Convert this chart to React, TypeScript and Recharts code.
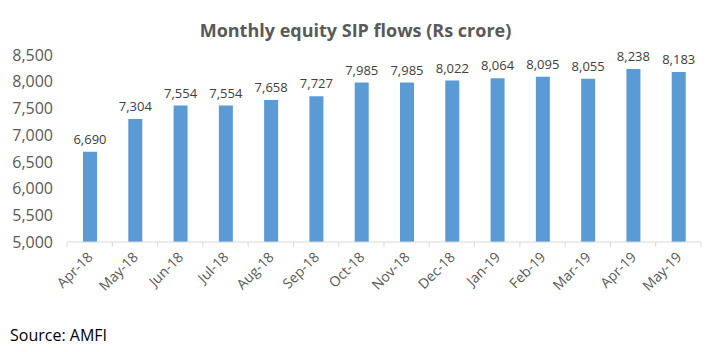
import React from 'react';
import { BarChart, Bar, XAxis, YAxis, LabelList } from 'recharts';

const months = ['Apr-18', 'May-18', 'Jun-18', 'Jul-18', 'Aug-18', 'Sep-18', 'Oct-18', 'Nov-18', 'Dec-18', 'Jan-19', 'Feb-19', 'Mar-19', 'Apr-19', 'May-19'];
const sipFlows = [6690, 7304, 7554, 7554, 7658, 7727, 7985, 7985, 8022, 8064, 8095, 8055, 8238, 8183];
const yTicks = [5000, 5500, 6000, 6500, 7000, 7500, 8000, 8500];

const data = months.map((m, i) => ({ month: m, value: sipFlows[i] }));

const FONT = '"Open Sans", sans-serif';
const fmt = (v: number) => v.toLocaleString('en-US');
const BAND = (711 - 67 - 10) / months.length;

const MonthTick = (props: any) => {
  const { x, y, payload, index } = props;
  const i = index ?? payload.index;
  const axisY = y - 8;
  return (
    <g>
      <line x1={x - BAND / 2} x2={x - BAND / 2} y1={axisY} y2={axisY + 5} stroke="#D9D9D9" />
      {i === months.length - 1 && (
        <line x1={x + BAND / 2} x2={x + BAND / 2} y1={axisY} y2={axisY + 5} stroke="#D9D9D9" />
      )}
      <g transform={`translate(${x + 4},${y + 8})`}>
        <text textAnchor="end" transform="rotate(-45)" fill="#595959" fontSize={14} fontFamily={FONT}>
          {payload.value}
        </text>
      </g>
    </g>
  );
};

export default function App() {
  return (
    <div style={{ position: 'absolute', left: 0, top: 0, width: 711, height: 352, background: '#fff', fontFamily: FONT }}>
      <div style={{ position: 'absolute', left: 0, width: 711, top: 18, textAlign: 'center', fontSize: 18, fontWeight: 700, color: '#595959' }}>
        Monthly equity SIP flows (Rs crore)
      </div>
      <BarChart width={711} height={352} data={data} margin={{ top: 55, right: 10, bottom: 0, left: 0 }}>
        <XAxis
          dataKey="month"
          height={110}
          stroke="#D9D9D9"
          tickLine={false}
          interval={0}
          tick={<MonthTick />}
        />
        <YAxis
          width={67}
          domain={[5000, 8500]}
          ticks={yTicks}
          axisLine={false}
          tickLine={false}
          tickSize={0}
          tickMargin={14}
          tickFormatter={fmt}
          tick={{ fill: '#595959', fontSize: 16, fontFamily: FONT }}
        />
        <Bar dataKey="value" fill="#5B9BD5" barSize={14} isAnimationActive={false}>
          <LabelList dataKey="value" position="top" offset={8} formatter={(v: any) => fmt(Number(v))} fill="#404040" fontSize={13} fontFamily={FONT} />
        </Bar>
      </BarChart>
      <div style={{ position: 'absolute', left: 10, top: 324, fontSize: 16, color: '#000' }}>Source: AMFI</div>
    </div>
  );
}
